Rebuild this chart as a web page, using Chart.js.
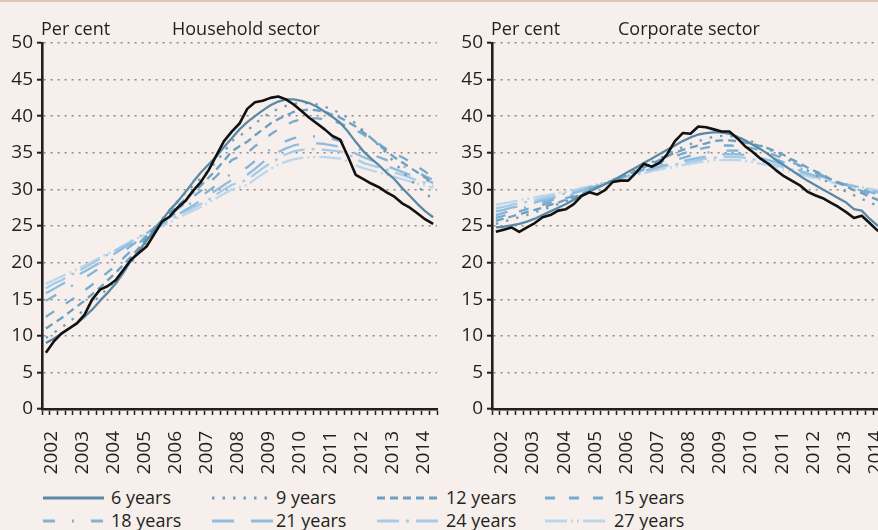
<!DOCTYPE html>
<html lang="en">
<head>
<meta charset="UTF-8">
<title>Household and corporate sector</title>
<script src="https://cdn.jsdelivr.net/npm/chart.js"></script>
<style>
  html, body { margin: 0; padding: 0; }
  body {
    width: 878px; height: 530px; overflow: hidden; position: relative;
    background: #f6efeb; font-family: 'Open Sans', sans-serif; color: #231f20;
  }
  .topline { position: absolute; left: 0; top: 0; width: 878px; height: 2px; background: #dcc6b8; }
  .panel { position: absolute; top: 0; }
  .label { position: absolute; top: 16px; font-size: 18px; line-height: 24px; white-space: nowrap; }
  .item { position: absolute; height: 23px; left: 0; width: 878px; }
  .item svg { position: absolute; top: 9px; }
  .item span { position: absolute; top: 0; font-size: 18px; line-height: 23px; white-space: nowrap; }
</style>
</head>
<body>
<div class="topline"></div>
<canvas id="household" class="panel" width="445" height="480" style="left:0px"></canvas>
<canvas id="corporate" class="panel" width="447" height="480" style="left:450px"></canvas>
<div class="label" style="left:41px">Per cent</div>
<div class="label" style="left:172px">Household sector</div>
<div class="label" style="left:491px">Per cent</div>
<div class="label" style="left:618px">Corporate sector</div>
<div id="legend"></div>

<script>
// quarterly observations, 2002 Q1 - 2014 Q3
const years = [2002, 2003, 2004, 2005, 2006, 2007, 2008, 2009, 2010, 2011, 2012, 2013, 2014];
const quarterLabels = [];
years.forEach(y => ['Q1', 'Q2', 'Q3', 'Q4'].forEach(q => quarterLabels.push(y + ' ' + q)));
quarterLabels.length = 51;

const seriesNames = ['6 years', '9 years', '12 years', '15 years', '18 years', '21 years', '24 years', '27 years'];
const seriesColors = ['#5a89a7', '#6f9fbf', '#6c9fc1', '#76abcf', '#7fb3d7', '#8fbde0', '#a6cbe7', '#bad7ed'];
const seriesDash = [[], [2.5, 8], [8, 5], [10, 14], [12, 17, 2, 17], [22, 17], [22, 7, 3, 7], [22, 4, 2, 4, 2, 4]];

// Household sector
const houseActual = [7.7, 9.2, 10.3, 11.0, 11.7, 12.9, 15.0, 16.3, 16.8, 17.6, 19.0, 20.4, 21.3, 22.2, 23.9, 25.6, 26.3, 27.5, 28.4, 29.8,
  31.0, 32.6, 34.6, 36.6, 37.9, 39.0, 41.0, 41.9, 42.1, 42.5, 42.7, 42.3, 41.6, 40.7, 39.8, 39.0, 38.2, 37.3, 36.8, 34.5,
  32.0, 31.4, 30.8, 30.3, 29.6, 29.0, 28.1, 27.5, 26.7, 25.9, 25.3];
const house6 = [9.0, 9.6, 10.3, 11.0, 11.7, 12.6, 13.6, 14.8, 15.9, 17.1, 18.6, 20.3, 21.6, 23.0, 24.4, 25.8, 27.2, 28.3, 29.6, 31.0,
  32.3, 33.4, 34.5, 35.8, 37.0, 38.2, 39.2, 40.0, 40.8, 41.5, 42.0, 42.3, 42.3, 42.1, 41.8, 41.3, 40.6, 39.9, 39.1, 37.9,
  36.5, 35.2, 34.2, 33.3, 32.3, 31.4, 30.2, 29.1, 28.0, 27.0, 26.2];
const house9 = [9.7, 10.4, 11.1, 11.9, 12.7, 13.6, 14.5, 15.5, 16.5, 17.6, 18.8, 20.0, 21.3, 22.9, 24.6, 25.9, 27.2, 28.4, 29.5, 30.5,
  31.5, 32.6, 33.8, 35.1, 36.6, 37.3, 38.0, 39.0, 39.8, 40.5, 41.0, 41.4, 41.7, 41.8, 41.8, 41.6, 41.3, 40.9, 40.4, 39.8,
  39.0, 38.0, 37.0, 36.0, 34.9, 33.7, 32.5, 31.4, 30.4, 29.5, 28.6];
const house12 = [11.0, 11.7, 12.4, 13.2, 14.0, 14.8, 15.7, 16.6, 17.6, 18.6, 19.7, 20.8, 22.0, 23.4, 24.8, 25.8, 26.8, 27.7, 28.7, 29.6,
  30.5, 31.6, 32.7, 33.9, 35.2, 35.9, 36.5, 37.4, 38.2, 39.0, 39.6, 40.1, 40.6, 40.8, 40.9, 40.8, 40.6, 40.2, 39.8, 39.2,
  38.6, 37.8, 37.0, 36.1, 35.2, 34.4, 33.7, 33.0, 32.3, 31.6, 30.8];
const house15 = [12.6, 13.3, 14.0, 14.7, 15.4, 16.2, 17.0, 17.8, 18.7, 19.6, 20.6, 21.6, 22.6, 23.7, 24.8, 25.7, 26.5, 27.3, 28.1, 29.0,
  29.8, 30.8, 31.8, 32.9, 34.0, 34.5, 35.0, 35.9, 36.7, 37.5, 38.2, 38.8, 39.3, 39.6, 39.7, 39.7, 39.6, 39.4, 39.0, 38.6,
  38.1, 37.5, 36.8, 36.2, 35.5, 34.9, 34.4, 33.8, 33.1, 32.4, 31.6];
const house18 = [14.8, 15.4, 16.0, 16.6, 17.2, 17.9, 18.6, 19.3, 20.0, 20.7, 21.5, 22.3, 23.1, 23.9, 24.8, 25.5, 26.2, 26.9, 27.6, 28.3,
  29.0, 29.8, 30.6, 31.4, 32.2, 32.6, 33.0, 33.9, 34.7, 35.5, 36.1, 36.6, 37.0, 37.2, 37.3, 37.2, 37.1, 36.9, 36.6, 36.2,
  35.7, 35.2, 34.8, 34.4, 34.0, 33.6, 33.2, 32.8, 32.3, 31.8, 31.3];
const house21 = [15.8, 16.4, 17.0, 17.6, 18.2, 18.8, 19.4, 20.0, 20.7, 21.3, 22.0, 22.6, 23.3, 24.0, 24.7, 25.3, 25.9, 26.5, 27.2, 27.8,
  28.5, 29.2, 29.9, 30.6, 31.3, 31.7, 32.0, 32.8, 33.7, 34.5, 35.1, 35.6, 36.0, 36.2, 36.3, 36.3, 36.2, 36.0, 35.8, 35.4,
  34.9, 34.4, 34.0, 33.6, 33.2, 32.8, 32.4, 32.0, 31.6, 31.3, 30.9];
const house24 = [16.5, 17.1, 17.6, 18.2, 18.7, 19.3, 19.9, 20.5, 21.1, 21.7, 22.3, 22.9, 23.5, 24.0, 24.6, 25.2, 25.8, 26.4, 27.0, 27.5,
  28.0, 28.6, 29.3, 30.0, 30.6, 31.0, 31.3, 32.1, 32.9, 33.6, 34.2, 34.8, 35.2, 35.4, 35.5, 35.5, 35.4, 35.3, 35.2, 34.8,
  34.2, 33.6, 33.3, 33.0, 32.7, 32.3, 32.0, 31.6, 31.2, 30.9, 30.5];
const house27 = [17.1, 17.6, 18.1, 18.6, 19.1, 19.6, 20.1, 20.7, 21.2, 21.7, 22.3, 22.8, 23.4, 23.9, 24.5, 25.0, 25.5, 26.1, 26.6, 27.1,
  27.6, 28.2, 28.8, 29.4, 30.0, 30.3, 30.6, 31.4, 32.1, 32.8, 33.4, 33.8, 34.1, 34.3, 34.4, 34.4, 34.4, 34.3, 34.2, 33.8,
  33.3, 32.9, 32.6, 32.3, 32.0, 31.7, 31.4, 31.1, 30.8, 30.5, 30.2];

// Corporate sector
const corpActual = [24.2, 24.5, 24.8, 24.2, 24.8, 25.4, 26.2, 26.5, 27.1, 27.3, 28.0, 29.1, 29.6, 29.3, 29.9, 31.0, 31.2, 31.2, 32.3, 33.5,
  33.1, 33.6, 34.8, 36.6, 37.7, 37.6, 38.6, 38.5, 38.2, 37.9, 37.9, 37.0, 35.9, 35.1, 34.2, 33.5, 32.6, 31.8, 31.2, 30.6,
  29.7, 29.2, 28.8, 28.2, 27.6, 26.9, 26.1, 26.4, 25.4, 24.4, 24.2];
const corp6 = [24.8, 24.9, 25.1, 25.3, 25.6, 26.0, 26.5, 27.0, 27.5, 28.0, 28.6, 29.2, 29.7, 30.2, 30.7, 31.2, 31.8, 32.4, 33.0, 33.6,
  34.2, 34.8, 35.4, 36.0, 36.6, 37.1, 37.5, 37.7, 37.8, 37.8, 37.6, 37.2, 36.7, 36.1, 35.5, 34.8, 34.0, 33.3, 32.6, 31.9,
  31.2, 30.6, 30.0, 29.4, 28.8, 28.2, 27.3, 27.1, 26.0, 25.1, 24.9];
const corp9 = [25.3, 25.6, 25.9, 26.2, 26.5, 26.9, 27.2, 27.6, 28.0, 28.4, 28.8, 29.3, 29.8, 30.3, 30.8, 31.3, 31.7, 32.2, 32.6, 33.1,
  33.7, 34.2, 34.8, 35.3, 35.8, 36.2, 36.6, 36.9, 37.2, 37.3, 37.3, 37.1, 36.8, 36.5, 36.0, 35.5, 35.0, 34.4, 33.8, 33.2,
  32.6, 32.0, 31.4, 30.8, 30.2, 29.7, 29.2, 28.7, 28.2, 27.8, 27.5];
const corp12 = [25.7, 26.0, 26.3, 26.6, 26.9, 27.2, 27.5, 27.9, 28.2, 28.6, 28.9, 29.4, 29.8, 30.3, 30.7, 31.2, 31.6, 32.1, 32.5, 33.0,
  33.5, 34.0, 34.5, 35.0, 35.4, 35.7, 36.0, 36.3, 36.6, 36.7, 36.7, 36.6, 36.4, 36.2, 35.9, 35.6, 35.2, 34.7, 34.1, 33.6,
  33.0, 32.5, 32.0, 31.4, 30.9, 30.4, 29.9, 29.5, 29.0, 28.6, 28.2];
const corp15 = [26.1, 26.4, 26.7, 27.0, 27.3, 27.6, 27.9, 28.2, 28.5, 28.8, 29.1, 29.5, 29.9, 30.3, 30.7, 31.2, 31.6, 32.0, 32.4, 32.8,
  33.3, 33.7, 34.1, 34.5, 34.9, 35.2, 35.5, 35.7, 35.9, 36.0, 36.0, 35.9, 35.8, 35.6, 35.3, 35.0, 34.6, 34.2, 33.7, 33.3,
  32.8, 32.3, 31.9, 31.4, 31.0, 30.6, 30.2, 29.8, 29.4, 29.0, 28.6];
const corp18 = [26.5, 26.8, 27.1, 27.3, 27.6, 27.9, 28.2, 28.5, 28.7, 29.0, 29.3, 29.7, 30.1, 30.5, 30.8, 31.2, 31.6, 32.0, 32.3, 32.7,
  33.0, 33.4, 33.7, 34.0, 34.3, 34.6, 34.8, 35.0, 35.2, 35.3, 35.3, 35.3, 35.2, 35.0, 34.8, 34.5, 34.1, 33.7, 33.3, 32.9,
  32.5, 32.1, 31.7, 31.4, 31.0, 30.7, 30.4, 30.0, 29.7, 29.3, 29.0];
const corp21 = [27.0, 27.2, 27.5, 27.7, 28.0, 28.2, 28.5, 28.7, 29.0, 29.2, 29.5, 29.8, 30.2, 30.5, 30.9, 31.2, 31.5, 31.9, 32.2, 32.5,
  32.8, 33.1, 33.4, 33.7, 33.9, 34.1, 34.3, 34.5, 34.7, 34.8, 34.8, 34.8, 34.7, 34.5, 34.3, 34.0, 33.7, 33.3, 33.0, 32.6,
  32.2, 31.9, 31.5, 31.2, 30.9, 30.6, 30.4, 30.1, 29.9, 29.6, 29.3];
const corp24 = [27.4, 27.6, 27.9, 28.1, 28.3, 28.5, 28.8, 29.0, 29.2, 29.5, 29.7, 30.0, 30.3, 30.6, 30.9, 31.2, 31.5, 31.8, 32.1, 32.4,
  32.7, 33.0, 33.2, 33.4, 33.6, 33.8, 34.0, 34.2, 34.3, 34.4, 34.4, 34.4, 34.3, 34.1, 33.9, 33.6, 33.3, 33.0, 32.7, 32.3,
  32.0, 31.7, 31.4, 31.2, 30.9, 30.7, 30.5, 30.2, 30.0, 29.7, 29.5];
const corp27 = [27.9, 28.1, 28.3, 28.5, 28.7, 28.9, 29.1, 29.3, 29.5, 29.7, 29.9, 30.2, 30.4, 30.7, 31.0, 31.2, 31.5, 31.7, 32.0, 32.2,
  32.5, 32.7, 32.9, 33.1, 33.3, 33.5, 33.7, 33.8, 34.0, 34.0, 34.0, 34.0, 33.9, 33.7, 33.5, 33.3, 33.0, 32.7, 32.4, 32.1,
  31.8, 31.5, 31.3, 31.0, 30.8, 30.6, 30.4, 30.3, 30.1, 29.9, 29.7];

const ink = '#231f20';
Chart.defaults.font.family = "'Open Sans', sans-serif";
Chart.defaults.font.size = 18;
Chart.defaults.color = ink;

function makePanel(canvasId, actual, models) {
    // actual series first so it is drawn on top
    const datasets = [{
        label: 'Actual',
        data: actual,
        borderColor: '#111111',
        borderWidth: 2.6
    }];
    models.forEach((d, k) => {
        datasets.push({
            label: seriesNames[k],
            data: d,
            borderColor: seriesColors[k],
            borderDash: seriesDash[k],
            borderWidth: 2.3
        });
    });

    new Chart(document.getElementById(canvasId), {
        type: 'line',
        data: { labels: quarterLabels, datasets: datasets },
        options: {
            responsive: false,
            animation: false,
            elements: {
                point: { radius: 0 },
                line: { tension: 0, fill: false, borderJoinStyle: 'round' }
            },
            layout: { padding: { top: 43, right: 8, left: 0, bottom: 0 } },
            plugins: { legend: { display: false }, tooltip: { enabled: false } },
            scales: {
                x: {
                    type: 'category',
                    offset: true,
                    grid: { drawOnChartArea: false, drawTicks: true, tickLength: 6, tickColor: ink, tickWidth: 1.5, offset: true },
                    border: { color: ink, width: 2.6 },
                    ticks: {
                        autoSkip: false, minRotation: 90, maxRotation: 90, padding: 16, labelOffset: 6,
                        font: { size: 19 },
                        callback: (v, i) => i % 4 === 0 ? quarterLabels[i].slice(0, 4) : ''
                    },
                    afterFit: s => { s.height = 71; s.paddingLeft = 0; s.paddingRight = 0; }
                },
                y: {
                    min: 0, max: 50,
                    ticks: { stepSize: 5, padding: 4, font: { size: 19 } },
                    grid: { color: '#8e8b8a', lineWidth: 1.4, tickColor: ink, tickWidth: 2, tickLength: 5 },
                    border: { color: ink, width: 2.6, dash: [2, 5] },
                    afterFit: s => { s.width = 42; }
                }
            }
        }
    });
}

makePanel('household', houseActual, [house6, house9, house12, house15, house18, house21, house24, house27]);
makePanel('corporate', corpActual, [corp6, corp9, corp12, corp15, corp18, corp21, corp24, corp27]);

// legend: two rows of four, built from the series settings
const legendRows = [486, 509];
const legendCols = [{ line: 43, len: 61, text: 111 }, { line: 212, len: 61, text: 276 },
                    { line: 377, len: 63, text: 446 }, { line: 545, len: 62, text: 614 }];
const legend = document.getElementById('legend');
seriesNames.forEach((name, k) => {
    const row = legendRows[Math.floor(k / 4)];
    const col = legendCols[k % 4];
    const item = document.createElement('div');
    item.className = 'item';
    item.style.top = row + 'px';
    const dash = seriesDash[k].length ? seriesDash[k].join(' ') : 'none';
    item.innerHTML =
        '<svg width="' + col.len + '" height="6" style="left:' + col.line + 'px">' +
        '<line x1="0" y1="3" x2="' + col.len + '" y2="3" stroke="' + seriesColors[k] + '" stroke-width="3" stroke-dasharray="' + dash + '"/></svg>' +
        '<span style="left:' + col.text + 'px">' + name + '</span>';
    legend.appendChild(item);
});
</script>
</body>
</html>
